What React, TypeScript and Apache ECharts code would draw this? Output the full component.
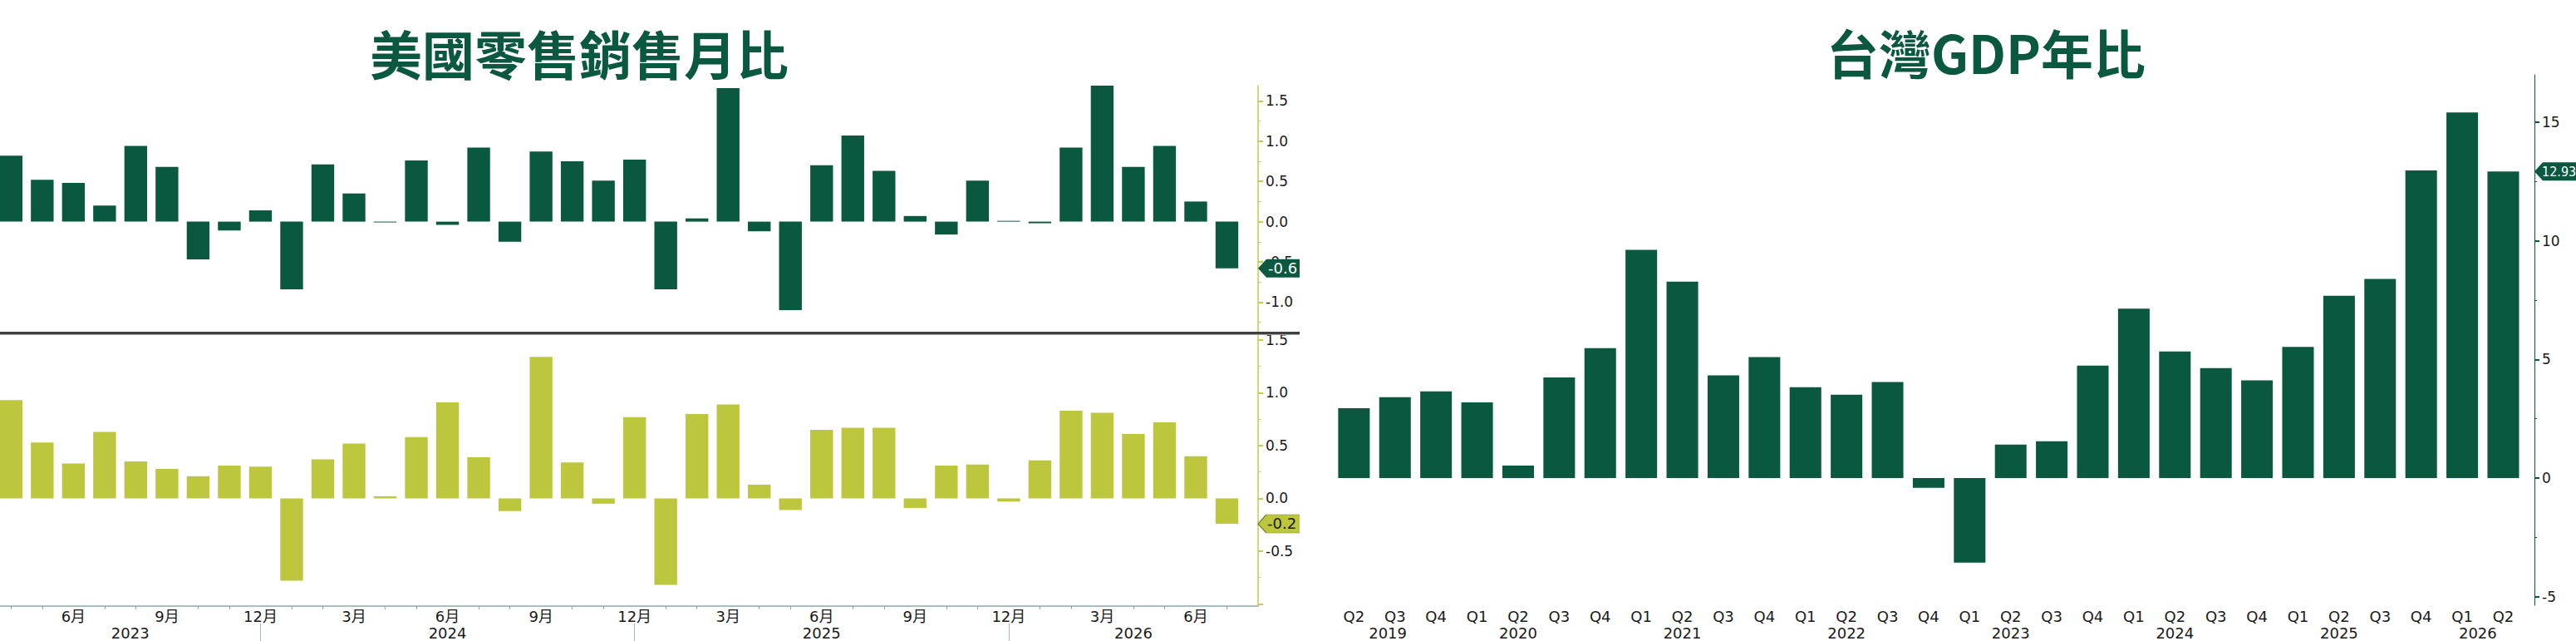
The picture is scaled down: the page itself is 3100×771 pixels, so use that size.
import React, { useEffect, useRef } from "react";
import * as echarts from "echarts";

// ---------- data ----------
const monthCategories = [
  "2023-04", "2023-05", "2023-06", "2023-07", "2023-08", "2023-09", "2023-10", "2023-11", "2023-12",
  "2024-01", "2024-02", "2024-03", "2024-04", "2024-05", "2024-06", "2024-07", "2024-08", "2024-09",
  "2024-10", "2024-11", "2024-12",
  "2025-01", "2025-02", "2025-03", "2025-04", "2025-05", "2025-06", "2025-07", "2025-08", "2025-09",
  "2025-10", "2025-11", "2025-12",
  "2026-01", "2026-02", "2026-03", "2026-04", "2026-05", "2026-06", "2026-07",
];
const retailSalesMoM = [
  0.82, 0.52, 0.48, 0.2, 0.94, 0.68, -0.47, -0.11, 0.14,
  -0.84, 0.71, 0.35, -0.01, 0.76, -0.04, 0.92, -0.25, 0.87, 0.75, 0.51, 0.77,
  -0.84, 0.04, 1.66, -0.12, -1.1, 0.7, 1.07, 0.63, 0.07, -0.16, 0.51, 0.01,
  -0.02, 0.92, 1.69, 0.68, 0.94, 0.25, -0.58,
];
const retailControlMoM = [
  0.93, 0.53, 0.33, 0.63, 0.35, 0.28, 0.21, 0.31, 0.3,
  -0.78, 0.37, 0.52, 0.02, 0.58, 0.91, 0.39, -0.12, 1.34, 0.34, -0.05, 0.77,
  -0.82, 0.8, 0.89, 0.13, -0.11, 0.65, 0.67, 0.67, -0.09, 0.31, 0.32, -0.03,
  0.36, 0.83, 0.81, 0.61, 0.72, 0.4, -0.24,
];
const topTicks = [-1, -0.5, 0, 0.5, 1, 1.5];
const topMinorTicks = [-1.25, -0.75, -0.25, 0.25, 0.75, 1.25];
const bottomTicks = [-1, -0.5, 0, 0.5, 1, 1.5];
const bottomLabels = [-0.5, 0, 0.5, 1, 1.5];
const bottomMinorTicks = [-0.75, -0.25, 0.25, 0.75, 1.25];

const quarterCategories = [
  "2019Q2", "2019Q3", "2019Q4",
  "2020Q1", "2020Q2", "2020Q3", "2020Q4",
  "2021Q1", "2021Q2", "2021Q3", "2021Q4",
  "2022Q1", "2022Q2", "2022Q3", "2022Q4",
  "2023Q1", "2023Q2", "2023Q3", "2023Q4",
  "2024Q1", "2024Q2", "2024Q3", "2024Q4",
  "2025Q1", "2025Q2", "2025Q3", "2025Q4",
  "2026Q1", "2026Q2",
];
const taiwanGdpYoY = [
  2.95, 3.41, 3.66,
  3.19, 0.53, 4.24, 5.48,
  9.62, 8.28, 4.33, 5.1,
  3.83, 3.52, 4.05, -0.41,
  -3.56, 1.41, 1.55, 4.74,
  7.14, 5.34, 4.64, 4.12,
  5.53, 7.69, 8.4, 12.97,
  15.41, 12.93,
];
const gdpTicks = [-5, 0, 5, 10, 15];
const gdpMinorTicks = [-2.5, 2.5, 7.5, 12.5];

// ---------- styles ----------
const FONT = "'DejaVu Sans', 'Noto Sans CJK TC', sans-serif";
const FONT_TAG = "'DejaVu Sans Condensed', 'DejaVu Sans', sans-serif";
const CJK = "'Noto Sans CJK TC', 'Noto Sans CJK SC', sans-serif";
const DARK = "#0a5840";
const LIME = "#bdc73d";
const LIME_AXIS = "#c3cb50";
const LABEL = "#1a1a1a";
const XAXIS = "#8fa9a6";

const nearest = (arr: number[], v: number) => {
  let bi = 0;
  arr.forEach((a, i) => {
    if (Math.abs(a - v) < Math.abs(arr[bi] - v)) bi = i;
  });
  return bi;
};

function leftOption(): any {
  const xMin = 0.645;
  const xMax = 41;
  const monthNum = (p: number) => Number(monthCategories[p - 1].slice(5));
  const positions = monthCategories.map((_, i) => i + 1);
  const quarterPos = positions.filter((p) => monthNum(p) % 3 === 0);
  const otherPos = positions.filter((p) => monthNum(p) % 3 !== 0);
  const decPos = positions.filter((p) => monthNum(p) === 12);
  const bounds = [xMin, ...decPos, xMax];
  const firstYear = Number(monthCategories[0].slice(0, 4));
  const yearPos = bounds.slice(0, -1).map((b, i) => (b + bounds[i + 1]) / 2);
  const yearNames = yearPos.map((_, i) => String(firstYear + i));

  const labelStyle = { fontFamily: FONT, fontSize: 17, color: LABEL };
  const tag = (v: number, fill: string, text: string, border?: string) => ({
    symbol: "path://M0,11L10,0L80,0L80,22L10,22Z",
    symbolSize: [80, 22],
    symbolOffset: [40, 0],
    symbolKeepAspect: false,
    silent: true,
    itemStyle: { color: fill, borderColor: border || fill, borderWidth: border ? 1 : 0 },
    label: {
      show: true,
      position: "insideLeft",
      distance: 12,
      formatter: () => v.toFixed(1),
      fontFamily: FONT,
      fontSize: 18,
      color: text,
    },
    data: [{ coord: [xMax, v], value: v }],
  });

  return {
    animation: false,
    grid: [
      { left: 0, top: 103, width: 1514, height: 296, containLabel: false, outerBoundsMode: "none" },
      { left: 0, top: 402, width: 1514, height: 327, containLabel: false, outerBoundsMode: "none" },
    ],
    xAxis: [
      { gridIndex: 0, type: "value", position: "bottom", min: xMin, max: xMax, show: false },
      {
        gridIndex: 1, type: "value", position: "bottom", min: xMin, max: xMax,
        splitLine: { show: false },
        axisLine: { show: true, onZero: false, lineStyle: { color: XAXIS, width: 1.5 } },
        axisTick: { show: true, customValues: otherPos, length: 4, lineStyle: { color: XAXIS } },
        axisLabel: {
          show: true, customValues: quarterPos, margin: 3,
          formatter: (v: number) => `${monthNum(Math.round(v))}月`,
          fontFamily: FONT, fontSize: 18, color: LABEL,
        },
      },
      {
        gridIndex: 1, type: "value", position: "bottom", min: xMin, max: xMax, offset: 21,
        splitLine: { show: false },
        axisLine: { show: false, onZero: false },
        axisTick: { show: true, customValues: decPos, length: 24, lineStyle: { color: "#a7b9b7" } },
        axisLabel: {
          show: true, customValues: yearPos, margin: 2,
          formatter: (v: number) => yearNames[nearest(yearPos, v)],
          fontFamily: FONT, fontSize: 18, color: LABEL,
        },
      },
    ],
    yAxis: [
      {
        gridIndex: 0, type: "value", position: "right", min: -1.368, max: 1.69,
        splitLine: { show: false },
        axisLine: { show: true, onZero: false, lineStyle: { color: LIME_AXIS, width: 1.5 } },
        axisTick: { show: true, customValues: topTicks, length: 6, lineStyle: { color: LIME_AXIS, width: 2 } },
        axisLabel: { show: true, customValues: topTicks, margin: 9, formatter: (v: number) => v.toFixed(1), ...labelStyle },
      },
      {
        gridIndex: 0, type: "value", position: "right", min: -1.368, max: 1.69,
        splitLine: { show: false },
        axisLine: { show: false, onZero: false },
        axisTick: { show: true, customValues: topMinorTicks, length: 3, lineStyle: { color: LIME_AXIS } },
        axisLabel: { show: false },
      },
      {
        gridIndex: 1, type: "value", position: "right", min: -1.02, max: 1.555,
        splitLine: { show: false },
        axisLine: { show: true, onZero: false, lineStyle: { color: LIME_AXIS, width: 1.5 } },
        axisTick: { show: true, customValues: bottomTicks, length: 6, lineStyle: { color: LIME_AXIS, width: 2 } },
        axisLabel: { show: true, customValues: bottomLabels, margin: 9, formatter: (v: number) => v.toFixed(1), ...labelStyle },
      },
      {
        gridIndex: 1, type: "value", position: "right", min: -1.02, max: 1.555,
        splitLine: { show: false },
        axisLine: { show: false, onZero: false },
        axisTick: { show: true, customValues: bottomMinorTicks, length: 3, lineStyle: { color: LIME_AXIS } },
        axisLabel: { show: false },
      },
    ],
    series: [
      {
        type: "bar", xAxisIndex: 0, yAxisIndex: 0, barWidth: "73%",
        data: retailSalesMoM.map((v, i) => [i + 1, v]),
        itemStyle: { color: DARK },
        markPoint: tag(retailSalesMoM[retailSalesMoM.length - 1], DARK, "#ffffff"),
      },
      {
        type: "bar", xAxisIndex: 1, yAxisIndex: 2, barWidth: "73%",
        data: retailControlMoM.map((v, i) => [i + 1, v]),
        itemStyle: { color: LIME },
        markPoint: tag(retailControlMoM[retailControlMoM.length - 1], LIME, LABEL, "#7f8628"),
      },
    ],
    graphic: [
      {
        type: "text", x: 697, y: 62, z: 10,
        style: {
          text: "美國零售銷售月比", fill: DARK, fontFamily: CJK, fontWeight: "bold", fontSize: 63,
          align: "center", verticalAlign: "middle",
        },
      },
      { type: "rect", z: 10, shape: { x: 0, y: 399, width: 1564, height: 3 }, style: { fill: "#3f3f3f" } },
      { type: "rect", z: 10, shape: { x: 0, y: 402, width: 1564, height: 1 }, style: { fill: "#a3a3a3" } },
    ],
  };
}

function rightOption(): any {
  const xMin = 0.648;
  const xMax = 29.76;
  const positions = quarterCategories.map((_, i) => i + 1);
  const q4Pos = positions.filter((p) => quarterCategories[p - 1].endsWith("Q4"));
  const bounds = [xMin, ...q4Pos, xMax];
  const firstYear = Number(quarterCategories[0].slice(0, 4));
  const yearPos = bounds.slice(0, -1).map((b, i) => (b + bounds[i + 1]) / 2);
  const yearNames = yearPos.map((_, i) => String(firstYear + i));
  const labelStyle = { fontFamily: FONT, fontSize: 17, color: LABEL };
  const last = taiwanGdpYoY[taiwanGdpYoY.length - 1];

  return {
    animation: false,
    grid: [{ left: 48, top: 90, width: 1438, height: 638, containLabel: false, outerBoundsMode: "none" }],
    xAxis: [
      {
        type: "value", position: "bottom", min: xMin, max: xMax,
        splitLine: { show: false },
        axisLine: { show: false, onZero: false },
        axisTick: { show: false },
        axisLabel: {
          show: true, customValues: positions, margin: 4,
          formatter: (v: number) => quarterCategories[Math.round(v) - 1].slice(4),
          fontFamily: FONT, fontSize: 18, color: LABEL,
        },
      },
      {
        type: "value", position: "bottom", min: xMin, max: xMax, offset: 21,
        splitLine: { show: false },
        axisLine: { show: false, onZero: false },
        axisTick: { show: false },
        axisLabel: {
          show: true, customValues: yearPos, margin: 3,
          formatter: (v: number) => yearNames[nearest(yearPos, v)],
          fontFamily: FONT, fontSize: 18, color: LABEL,
        },
      },
    ],
    yAxis: [
      {
        type: "value", position: "right", min: -5.36, max: 17,
        splitLine: { show: false },
        axisLine: { show: true, onZero: false, lineStyle: { color: DARK, width: 1 } },
        axisTick: { show: true, customValues: gdpTicks, length: 6, lineStyle: { color: DARK, width: 2 } },
        axisLabel: { show: true, customValues: gdpTicks, margin: 9, formatter: (v: number) => String(v), ...labelStyle },
      },
      {
        type: "value", position: "right", min: -5.36, max: 17,
        splitLine: { show: false },
        axisLine: { show: false, onZero: false },
        axisTick: { show: true, customValues: gdpMinorTicks, length: 3, lineStyle: { color: DARK } },
        axisLabel: { show: false },
      },
    ],
    series: [
      {
        type: "bar", xAxisIndex: 0, yAxisIndex: 0, barWidth: "77%",
        data: taiwanGdpYoY.map((v, i) => [i + 1, v]),
        itemStyle: { color: DARK },
        markPoint: {
          symbol: "path://M0,11L10,0L80,0L80,22L10,22Z",
          symbolSize: [80, 22],
          symbolOffset: [40, 0],
          symbolKeepAspect: false,
          silent: true,
          itemStyle: { color: DARK },
          label: {
            show: true, position: "insideLeft", distance: 9,
            formatter: () => last.toFixed(2),
            fontFamily: FONT_TAG, fontSize: 16, color: "#ffffff",
          },
          data: [{ coord: [xMax, last], value: last }],
        },
      },
    ],
    graphic: [
      {
        type: "text", x: 826, y: 61, z: 10,
        style: {
          text: "台灣GDP年比", fill: DARK, fontFamily: CJK, fontWeight: "bold", fontSize: 63,
          align: "center", verticalAlign: "middle",
        },
      },
    ],
  };
}

export default function App() {
  const leftRef = useRef<HTMLDivElement>(null);
  const rightRef = useRef<HTMLDivElement>(null);

  useEffect(() => {
    const left = echarts.init(leftRef.current!, undefined, { renderer: "svg" });
    const right = echarts.init(rightRef.current!, undefined, { renderer: "svg" });
    left.setOption(leftOption());
    right.setOption(rightOption());
    return () => {
      left.dispose();
      right.dispose();
    };
  }, []);

  return (
    <div style={{ position: "absolute", left: 0, top: 0, width: 3100, height: 771, background: "#ffffff", overflow: "hidden" }}>
      <div ref={leftRef} style={{ position: "absolute", left: 0, top: 0, width: 1564, height: 771 }} />
      <div ref={rightRef} style={{ position: "absolute", left: 1564, top: 0, width: 1536, height: 771 }} />
    </div>
  );
}
